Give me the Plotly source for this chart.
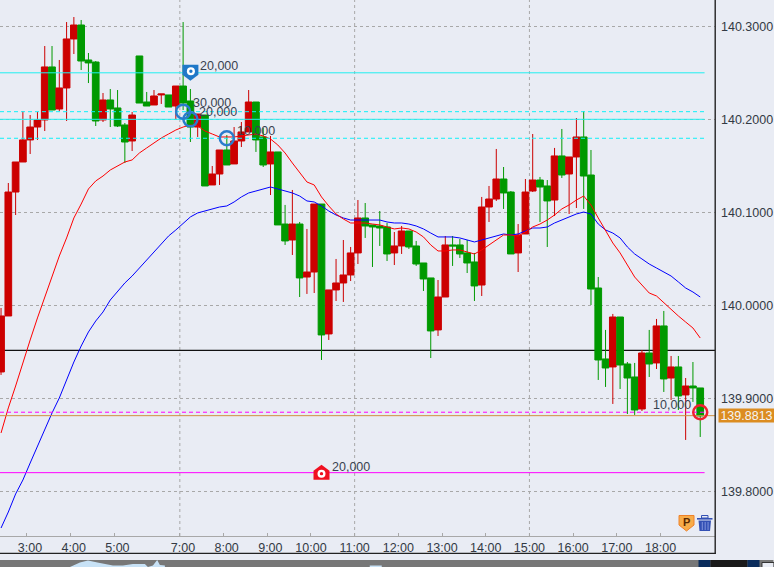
import plotly.graph_objects as go

# ---------- data (10 minute candles) ----------
open_prices = [139.9283,139.9885,140.1218,140.1541,140.1778,140.1917,140.1993,140.2563,140.2111,140.2337,
140.2864,140.3014,140.2638,140.2616,140.1993,140.2208,140.2122,140.1939,140.1767,140.2681,
140.2186,140.2154,140.2262,140.2262,140.2143,140.2358,140.2197,140.1917,140.2046,140.1294,
140.1412,140.1670,140.1520,140.1767,140.1864,140.2186,140.1810,140.1520,140.1649,140.0874,
140.0702,140.0874,140.0304,140.0358,140.1089,139.9692,140.0165,140.0240,140.0326,140.0563,
140.0939,140.0864,140.0853,140.0842,140.0563,140.0638,140.0799,140.0638,140.0455,140.0294,
139.9735,140.0089,140.0649,140.0649,140.0563,140.0466,140.0218,140.1057,140.1143,140.1358,
140.1218,140.0563,140.0767,140.1229,140.1347,140.1283,140.1132,140.1606,140.1412,140.1595,
140.1810,140.1401,140.0186,139.9423,139.9337,139.9874,139.9369,139.9229,139.8885,139.9487,
139.9380,139.9778,139.9218,139.9337,139.9036,139.9132,139.9111]
high_prices = [139.9971,140.1315,140.1541,140.2089,140.2046,140.2079,140.2788,140.2788,140.2638,140.3046,
140.3100,140.3068,140.2713,140.2627,140.2283,140.2326,140.2315,140.1960,140.2079,140.2681,
140.2294,140.2315,140.2272,140.2262,140.2358,140.3046,140.2326,140.2057,140.2046,140.1498,
140.1670,140.1831,140.1917,140.1971,140.2315,140.2186,140.1907,140.1821,140.1649,140.1079,
140.1240,140.0896,140.0821,140.1089,140.1089,140.0165,140.0498,140.0702,140.0627,140.1132,
140.1100,140.0864,140.1014,140.0885,140.0788,140.0853,140.0799,140.0692,140.0455,140.0294,
140.0272,140.0745,140.0745,140.0713,140.0702,140.0563,140.1165,140.1283,140.1681,140.1487,
140.1229,140.0874,140.1358,140.1842,140.1380,140.1347,140.1692,140.1896,140.1595,140.2014,
140.2089,140.1670,140.0304,139.9735,139.9907,139.9874,139.9390,139.9380,139.9519,139.9735,
139.9853,139.9939,139.9455,139.9455,139.9218,139.9390,139.9111]
low_prices = [139.9251,139.9885,140.0971,140.1541,140.1627,140.1778,140.1874,140.2100,140.2089,140.1982,
140.2702,140.2530,140.2390,140.1928,140.1971,140.1917,140.1917,140.1530,140.1659,140.2175,
140.2143,140.2154,140.2165,140.2132,140.2003,140.2100,140.1756,140.1810,140.1283,140.1294,
140.1294,140.1509,140.1520,140.1702,140.1864,140.1649,140.1487,140.1186,140.0864,140.0649,
140.0541,140.0089,140.0122,140.0132,139.9412,139.9627,140.0046,140.0036,140.0261,140.0444,
140.0724,140.0412,140.0638,140.0476,140.0433,140.0552,140.0606,140.0423,140.0154,139.9433,
139.9670,140.0089,140.0423,140.0509,140.0347,140.0046,140.0100,140.0896,140.1122,140.1036,
140.0552,140.0358,140.0767,140.1218,140.0896,140.0627,140.0960,140.1369,140.0982,140.1046,
140.1036,140.0003,139.9197,139.9122,139.8939,139.9100,139.8831,139.8821,139.8863,139.9229,
139.9315,139.9068,139.8982,139.8874,139.8552,139.8961,139.8584]
close_prices = [139.9885,140.1218,140.1541,140.1778,140.1917,140.1993,140.2563,140.2100,140.2337,140.2864,
140.3014,140.2627,140.2606,140.1982,140.2208,140.2111,140.1928,140.1756,140.2046,140.2175,
140.2143,140.2251,140.2272,140.2132,140.2358,140.2175,140.1917,140.2057,140.1283,140.1412,
140.1670,140.1509,140.1767,140.1864,140.2186,140.1778,140.1509,140.1649,140.0864,140.0692,
140.0874,140.0294,140.0358,140.1089,139.9681,140.0165,140.0240,140.0326,140.0563,140.0939,
140.0853,140.0842,140.0831,140.0552,140.0638,140.0799,140.0627,140.0444,140.0283,139.9724,
140.0089,140.0649,140.0638,140.0552,140.0455,140.0208,140.1057,140.1143,140.1358,140.1208,
140.0552,140.0756,140.1218,140.1347,140.1272,140.1122,140.1606,140.1401,140.1595,140.1810,
140.1390,140.0175,139.9412,139.9326,139.9874,139.9358,139.9218,139.8874,139.9487,139.9369,
139.9778,139.9208,139.9337,139.9025,139.9132,139.9111,139.8810]
ma_fast = [139.8627,139.8896,139.9132,139.9390,139.9627,139.9864,140.0089,140.0304,140.0530,140.0724,
140.0939,140.1089,140.1251,140.1337,140.1390,140.1455,140.1498,140.1541,140.1563,140.1638,
140.1692,140.1745,140.1799,140.1842,140.1885,140.1917,140.1939,140.1928,140.1874,140.1842,
140.1810,140.1810,140.1810,140.1821,140.1831,140.1842,140.1821,140.1788,140.1724,140.1638,
140.1530,140.1433,140.1326,140.1294,140.1165,140.1068,140.0982,140.0928,140.0885,140.0885,
140.0885,140.0874,140.0864,140.0842,140.0821,140.0831,140.0821,140.0788,140.0735,140.0649,
140.0584,140.0584,140.0595,140.0595,140.0573,140.0552,140.0595,140.0649,140.0702,140.0756,
140.0756,140.0745,140.0788,140.0842,140.0874,140.0917,140.0971,140.1036,140.1079,140.1132,
140.1175,140.1079,140.0939,140.0799,140.0670,140.0563,140.0433,140.0304,140.0218,140.0132,
140.0100,140.0025,139.9960,139.9885,139.9820,139.9756,139.9648]
ma_slow = [139.7605,139.7777,139.7971,139.8121,139.8304,139.8487,139.8670,139.8842,139.9003,139.9197,
139.9390,139.9562,139.9713,139.9831,139.9928,140.0057,140.0154,140.0240,140.0315,140.0401,
140.0487,140.0573,140.0659,140.0745,140.0810,140.0885,140.0950,140.0993,140.1014,140.1036,
140.1057,140.1068,140.1111,140.1165,140.1208,140.1229,140.1251,140.1272,140.1251,140.1229,
140.1208,140.1175,140.1122,140.1111,140.1068,140.1014,140.0971,140.0939,140.0917,140.0917,
140.0917,140.0917,140.0917,140.0896,140.0885,140.0885,140.0874,140.0853,140.0821,140.0777,
140.0735,140.0735,140.0735,140.0724,140.0702,140.0681,140.0702,140.0724,140.0745,140.0767,
140.0756,140.0767,140.0799,140.0831,140.0831,140.0842,140.0885,140.0917,140.0950,140.0982,
140.1003,140.0982,140.0874,140.0810,140.0777,140.0724,140.0627,140.0552,140.0498,140.0444,
140.0401,140.0358,140.0315,140.0251,140.0186,140.0143,140.0089]
candle_index = list(range(len(close_prices)))

time_positions = [3.55,9.55,15.55,24.55,30.55,36.55,42.55,48.55,54.55,60.55,66.55,72.55,78.55,84.55,90.55]
time_labels = ["3:00","4:00","5:00","7:00","8:00","9:00","10:00","11:00","12:00","13:00","14:00","15:00","16:00","17:00","18:00"]
grid_times = [24.55,48.55,72.55]
price_ticks = [139.8,139.9,140.0,140.1,140.2,140.3]

# order levels
cyan_solid = [140.25,140.20]
cyan_dash = [140.2082,140.1796]
black_level = 139.9516
magenta_dash = 139.885
magenta_solid = 139.82
last_price = 139.8813
order_circles = [(25,140.2082,"#2a7ccc"),(26,140.20,"#2a7ccc"),(31,140.1796,"#2a7ccc"),(96,139.885,"#f02030")]
order_labels = [(26,140.25,"20,000",7.5,7,"left"),(25,140.2082,"30,000",7.5,8.7,"left"),
                (26,140.20,"20,000",7,7,"left"),(31,140.1796,"10,000",7.7,7,"left"),
                (96,139.885,"10,000",-7,7,"right"),(44,139.82,"20,000",8,6,"left")]

BG = "#e9ecf4"; GREEN = "#009900"; RED = "#cc0000"; GRID = "#a8a8a8"
FONT = "Liberation Sans"; TEXT = "#333a44"
W, H = 774, 567
PW, PH = 715.5, 536
X_RANGE = [-0.143, 98.03]
Y_RANGE = [139.7519, 140.3283]
LEVEL_END = 96.6

def px(x): return x / PW
def py(y): return (PH - y) / PH

shapes = []
def chrome_rect(x0, y0, x1, y1, fill, line=None):
    shapes.append(dict(type="rect", xref="paper", yref="paper", x0=px(x0), x1=px(x1), y0=py(y0), y1=py(y1),
                       fillcolor=fill, line=dict(width=1 if line else 0, color=line or fill)))
def chrome_poly(points, fill, line=None, lw=1):
    d = "M " + " L ".join(f"{px(a):.5f} {py(b):.5f}" for a, b in points) + " Z"
    shapes.append(dict(type="path", xref="paper", yref="paper", path=d, fillcolor=fill,
                       line=dict(width=lw if line else 0, color=line or fill)))

# vertical dashed grid
for t in grid_times:
    shapes.append(dict(type="line", xref="x", yref="paper", x0=t, x1=t, y0=0, y1=1, layer="below",
                       line=dict(color=GRID, width=1, dash="3px,3px")))
# price levels
shapes.append(dict(type="line", xref="paper", yref="y", x0=0, x1=1, y0=black_level, y1=black_level, layer="below",
                   line=dict(color="#111111", width=1.2)))
for v in cyan_solid:
    shapes.append(dict(type="line", xref="x", yref="y", x0=X_RANGE[0], x1=LEVEL_END, y0=v, y1=v,
                       line=dict(color="#20f0f0", width=1)))
for v in cyan_dash:
    shapes.append(dict(type="line", xref="x", yref="y", x0=X_RANGE[0], x1=LEVEL_END, y0=v, y1=v,
                       line=dict(color="#10f0f8", width=1, dash="4px,3px")))
shapes.append(dict(type="line", xref="x", yref="y", x0=X_RANGE[0], x1=LEVEL_END, y0=magenta_dash, y1=magenta_dash,
                   line=dict(color="#ff00ff", width=1, dash="4px,3px")))
shapes.append(dict(type="line", xref="x", yref="y", x0=X_RANGE[0], x1=LEVEL_END, y0=magenta_solid, y1=magenta_solid,
                   line=dict(color="#ff00ff", width=1)))
shapes.append(dict(type="line", xref="paper", yref="y", x0=0, x1=1, y0=last_price, y1=last_price,
                   line=dict(color="#d09040", width=1)))

def pin(ix, price, **kw):
    d = dict(xsizemode="pixel", ysizemode="pixel", xref="x", yref="y", xanchor=ix, yanchor=price)
    d.update(kw)
    shapes.append(d)
def pin_circle(ix, price, cx, cy, r, fill, line=None, lw=0):
    pin(ix, price, type="circle", x0=cx-r, x1=cx+r, y0=cy-r, y1=cy+r, fillcolor=fill,
        line=dict(color=line or fill, width=lw))

# open-circle order markers
for ix, price, col in order_circles:
    pin_circle(ix, price, 0, 0, 7, "rgba(0,0,0,0)", col, 2.5)

# blue pennant, red house
pin(26, 140.25, type="path", path="M -8 8 L 8 8 L 8 -2 L 0 -8 L -8 -2 Z", fillcolor="#1f78c8", line=dict(width=0))
pin_circle(26, 140.25, 0.5, 1.5, 4, "#ffffff")
pin_circle(26, 140.25, 0.5, 1.5, 1.7, "#1f78c8")
pin(44, 139.82, type="path", path="M 0 8 L 8 2 L 8 -7 L -8 -7 L -8 2 Z", fillcolor="#f01020", line=dict(width=0))
pin_circle(44, 139.82, 0, -1, 4, "#ffffff")
pin_circle(44, 139.82, 0, -1, 1.7, "#f01020")

# frame
chrome_rect(715, 0, 716.4, 553.8, "#222222")
chrome_rect(0, 552.7, 716.4, 553.9, "#222222")
# bottom strip
chrome_rect(0, 560, 774, 567, "#777777")
chrome_poly([(70,567),(80,562.5),(88,560.5),(100,563),(113,565.5),(123,565.5),(133,564),(145,564),(148,567),
             (153,565.5),(157.3,560),(160,565),(165,565.5),(165,567)], "#c8e2f6")
chrome_rect(370, 565.5, 382, 567, "#c8e2f6")
chrome_rect(699, 560, 711, 567, "#0a2c5c")
chrome_rect(711, 560, 748, 567, "#1a1a1a")
chrome_rect(748, 560, 760, 567, "#0a2c5c")
chrome_rect(762.5, 562.5, 774.5, 568, BG, "#333333")
# P pennant
chrome_poly([(679.5,515.5),(694.5,515.5),(694.5,525),(687,531),(679.5,525)], "#f8ac48", "#ee8028", 1)
# trash can
chrome_rect(697.5, 518, 713, 519.6, "#3350b4")
chrome_rect(702, 515.5, 708.5, 518, "rgba(0,0,0,0)", "#3350b4")
chrome_poly([(699,520.5),(711.5,520.5),(710.5,531),(700,531)], "#3350b4")
for sx in (702.3, 705.2, 708.1):
    chrome_rect(sx, 522, sx+0.9, 530, "#8a9ce0")

annotations = []
for ix, price, label, dx, dy, anc in order_labels:
    annotations.append(dict(x=ix, y=price, xref="x", yref="y", text=label, showarrow=False, xshift=dx, yshift=dy,
                            xanchor=anc, yanchor="middle", font=dict(family=FONT, size=12.5, color="#3a4250")))
annotations.append(dict(x=px(687), y=py(522), xref="paper", yref="paper", text="<b>P</b>", showarrow=False,
                        font=dict(family=FONT, size=11, color="#5a2a00"), xanchor="center", yanchor="middle"))
annotations.append(dict(x=px(719), y=py(415.3), xref="paper", yref="paper", xanchor="left", yanchor="middle",
                        text=f"{last_price:.4f}", showarrow=False, bgcolor="#dc8c20", width=55, height=13,
                        borderpad=0, align="center", font=dict(family=FONT, size=12.5, color="#f4f4f4")))

# tick labels are right-aligned at a fixed offset from the tick in the reference
tick_text = [("\u2002" + t if len(t) == 4 else t) for t in time_labels]

fig = go.Figure()
fig.add_trace(go.Candlestick(x=candle_index, open=open_prices, high=high_prices, low=low_prices, close=close_prices,
    increasing=dict(line=dict(color=RED, width=1), fillcolor=RED),
    decreasing=dict(line=dict(color=GREEN, width=1), fillcolor=GREEN),
    whiskerwidth=0, hoverinfo="skip", showlegend=False))
fig.add_trace(go.Scatter(x=candle_index, y=ma_slow, mode="lines", line=dict(color="#0000ff", width=1), showlegend=False, hoverinfo="skip"))
fig.add_trace(go.Scatter(x=candle_index, y=ma_fast, mode="lines", line=dict(color="#ff0000", width=1), showlegend=False, hoverinfo="skip"))

fig.update_layout(
    width=W, height=H, autosize=False, paper_bgcolor=BG, plot_bgcolor=BG,
    margin=dict(l=0, r=W-PW, t=0, b=H-PH, pad=0, autoexpand=False),
    showlegend=False, shapes=shapes, annotations=annotations, boxgap=0.08, boxgroupgap=0,
    font=dict(family=FONT, size=12.5, color=TEXT),
    xaxis=dict(range=X_RANGE, rangeslider=dict(visible=False), tickmode="array", tickvals=time_positions, ticktext=tick_text,
               ticks="inside", ticklen=3, tickcolor="#a8a8a8", showgrid=False, zeroline=False, showline=True,
               linecolor="#a8a8a8", linewidth=1, tickangle=0, ticklabelstandoff=0),
    yaxis=dict(range=Y_RANGE, side="right", tickmode="array", tickvals=price_ticks, ticktext=[f"{v:.4f}" for v in price_ticks],
               ticks="", showgrid=True, gridcolor=GRID, gridwidth=1, griddash="3px,3px", zeroline=False, showline=False,
               ticklabelstandoff=5),
)
for arr in (open_prices, high_prices, low_prices, close_prices, ma_fast, ma_slow):
    if len(arr) != 97:
        raise ValueError(len(arr))
fig.write_html("out.html", config=dict(displayModeBar=False), post_script="document.body.style.margin='0';document.body.style.overflow='hidden';document.body.style.background='#e9ecf4';")
